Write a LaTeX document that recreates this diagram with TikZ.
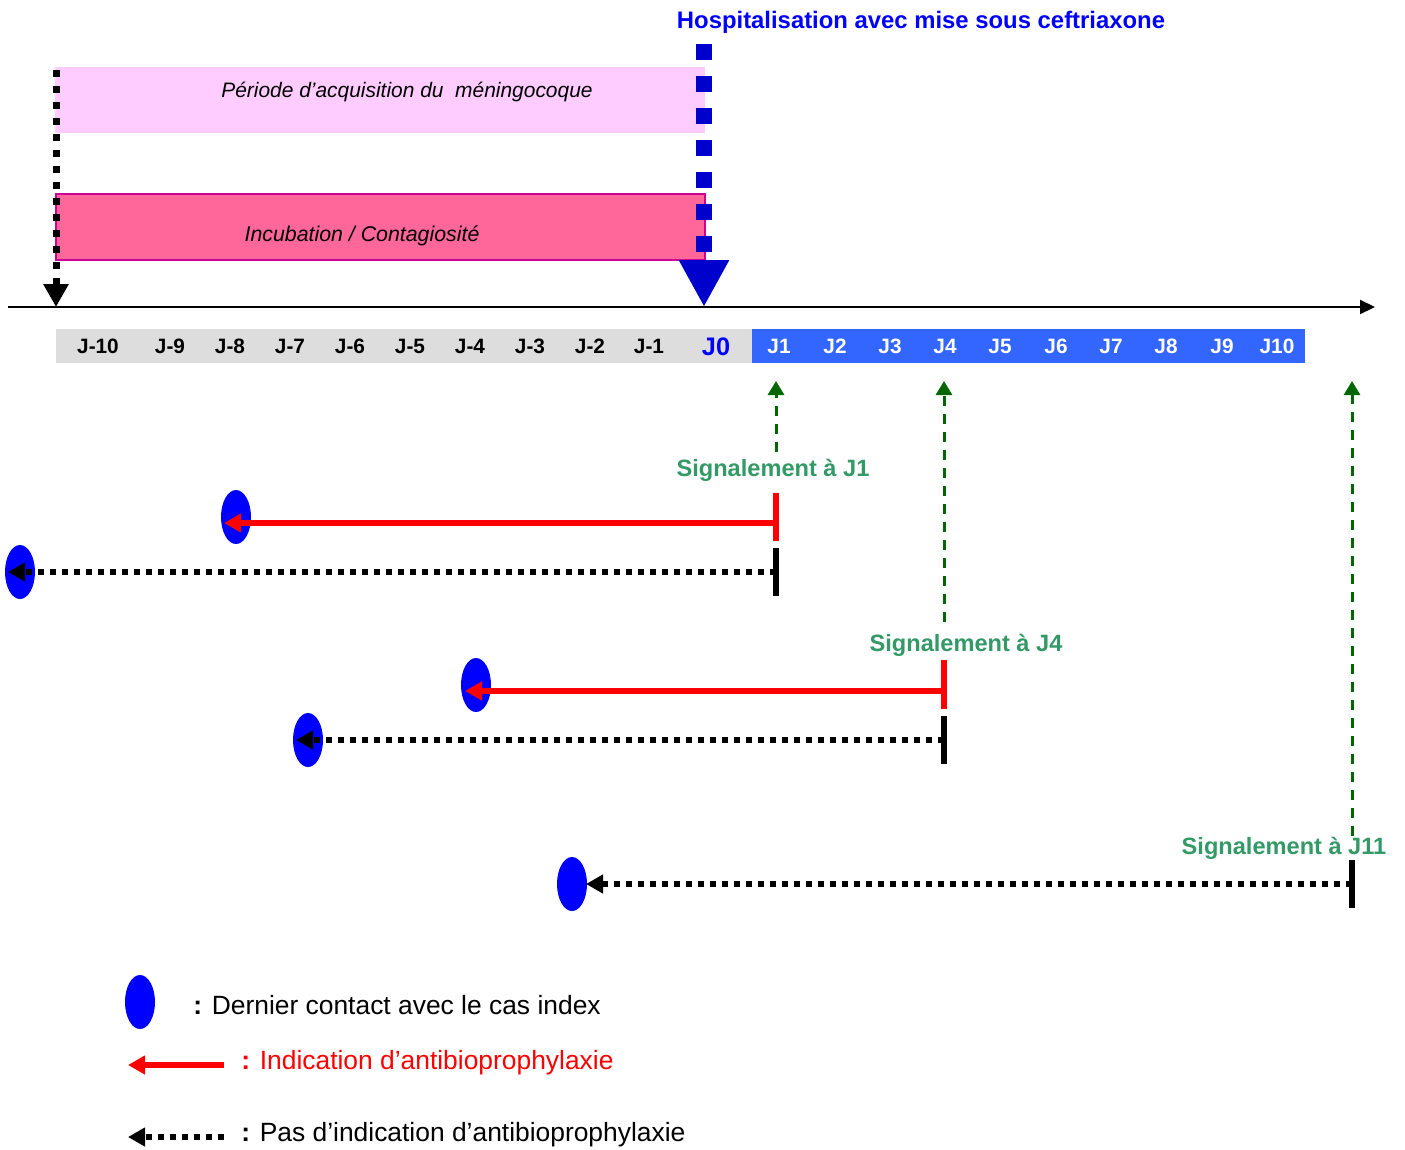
\documentclass[tikz,border=0pt]{standalone}
\usepackage{fontspec}
\setmainfont{Liberation Sans}
\usetikzlibrary{arrows.meta,shapes.geometric}
\definecolor{pinkA}{HTML}{FFCCFF}
\definecolor{pinkB}{HTML}{FF6699}
\definecolor{pinkBorder}{HTML}{CC0099}
\definecolor{greyBar}{HTML}{DDDDDD}
\definecolor{blueBar}{HTML}{3366FF}
\definecolor{darkBlue}{HTML}{0000CC}
\definecolor{textBlue}{HTML}{0000FF}
\definecolor{dashGreen}{HTML}{006600}
\definecolor{textGreen}{HTML}{339966}
\begin{document}
\begin{tikzpicture}[x=0.75pt,y=-0.75pt,
  contact/.style={ellipse,fill=textBlue,draw=none,minimum width=22.5pt,minimum height=40.5pt,inner sep=0pt},
  daylbl/.style={font=\fontsize{15.6}{18}\selectfont\bfseries,inner sep=0pt},
  sigtxt/.style={font=\fontsize{17.7}{20}\selectfont\bfseries,text=textGreen,inner sep=0pt},
  legtxt/.style={font=\fontsize{19.8}{24}\selectfont,inner sep=0pt,anchor=west},
  boxtxt/.style={font=\fontsize{15.7}{18}\selectfont\itshape,inner sep=0pt},
  redarrow/.style={draw=red,line width=4.5pt,-{Triangle[length=12.75pt,width=13.5pt]}},
  blackdots/.style={draw=black,line width=4.5pt,dash pattern=on 4.5pt off 4.5pt,-{Triangle[length=12.75pt,width=13.5pt]}},
  redbar/.style={draw=red,line width=4.5pt},
  blackbar/.style={draw=black,line width=4.5pt},
  gdash/.style={draw=dashGreen,line width=2.25pt,dash pattern=on 7.5pt off 6pt,-{Triangle[length=10.5pt,width=12pt]}},
]
\useasboundingbox (0,0) rectangle (1405,1149);

% period boxes
\fill[pinkA] (55,67) rectangle (705,133);
\node[boxtxt] (acq) at (407,92) {Période d’acquisition du\ \ méningocoque};
\filldraw[fill=pinkB,draw=pinkBorder,line width=1pt] (56,194) rectangle (705,260);
\node[boxtxt,font=\fontsize{16}{18}\selectfont\itshape] (incub) at (362,236) {Incubation / Contagiosité};

% day bar
\fill[greyBar] (56,329) rectangle (752,363);
\fill[blueBar] (752,329) rectangle (1305,363);
\foreach \t/\x/\n in {J-10/98/m10,J-9/170/m9,J-8/230/m8,J-7/290/m7,J-6/350/m6,J-5/410/m5,J-4/470/m4,J-3/530/m3,J-2/590/m2,J-1/649/m1}
  \node[daylbl] (d\n) at (\x,346) {\t};
\node[daylbl,font=\fontsize{19}{22}\selectfont\bfseries,text=textBlue] (d0) at (716,347) {J0};
\foreach \t/\x/\n in {J1/779/1,J2/835/2,J3/890/3,J4/945/4,J5/1000/5,J6/1056/6,J7/1111/7,J8/1166/8,J9/1222/9,J10/1277/10}
  \node[daylbl,text=white] (d\n) at (\x,346) {\t};

% axis
\coordinate (axL) at (8,307);
\coordinate (axR) at (1375,307);
\draw[line width=1.5pt,-{Triangle[length=11.25pt,width=10.5pt]}] (axL) -- (axR);

% start of period arrow
\coordinate (sTop) at (56,70);
\coordinate (sBot) at (56,307);
\draw[line width=5.25pt,dash pattern=on 5.25pt off 6.75pt,-{Triangle[length=17.25pt,width=18pt]}] (sTop) -- (sBot);

% hospitalisation
\node[font=\fontsize{17.9}{20}\selectfont\bfseries,text=textBlue,inner sep=0pt] (hosp) at (921,22) {Hospitalisation avec mise sous ceftriaxone};
\coordinate (hTop) at (704,44);
\coordinate (hBot) at (704,307);
\draw[darkBlue,line width=12pt,dash pattern=on 12pt off 12pt,-{Triangle[length=35.25pt,width=35.25pt]}] (hTop) -- (hBot);

% signalement J1
\coordinate (g1s) at (776,452);
\coordinate (g1e) at (776,381);
\draw[gdash] (g1s) -- (g1e);
\node[sigtxt] (s1) at (773,470) {Signalement à J1};
\node[contact] (e1r) at (236,517) {};
\node[contact] (e1b) at (20,572) {};
\coordinate (r1) at (776,523);
\coordinate (r1t) at (224,523);
\draw[redbar] (776,493) -- (776,541);
\draw[redarrow] (r1) -- (r1t);
\coordinate (k1) at (776,572);
\coordinate (k1t) at (8,572);
\draw[blackbar] (776,548) -- (776,596);
\draw[blackdots] (k1) -- (k1t);

% signalement J4
\coordinate (g4s) at (944,622);
\coordinate (g4e) at (944,381);
\draw[gdash] (g4s) -- (g4e);
\node[sigtxt] (s4) at (966,645) {Signalement à J4};
\node[contact] (e4r) at (476,685) {};
\node[contact] (e4b) at (308,740) {};
\coordinate (r4) at (944,691);
\coordinate (r4t) at (465,691);
\draw[redbar] (944,660) -- (944,709);
\draw[redarrow] (r4) -- (r4t);
\coordinate (k4) at (944,740);
\coordinate (k4t) at (296,740);
\draw[blackbar] (944,716) -- (944,764);
\draw[blackdots] (k4) -- (k4t);

% signalement J11
\coordinate (g11s) at (1352,836);
\coordinate (g11e) at (1352,381);
\draw[gdash] (g11s) -- (g11e);
\node[sigtxt] (s11) at (1284,848) {Signalement à J11};
\node[contact] (e11b) at (572,884) {};
\coordinate (k11) at (1352,884);
\coordinate (k11t) at (586,884);
\draw[blackbar] (1352,860) -- (1352,908);
\draw[blackdots] (k11) -- (k11t);

% legend
\node[contact] (le) at (140,1002) {};
\node[legtxt] (lt1) at (193,1005) {\textbf{:} Dernier contact avec le cas index};
\coordinate (lr) at (224,1065);
\coordinate (lrt) at (128,1065);
\draw[redarrow] (lr) -- (lrt);
\node[legtxt,text=red] (lt2) at (241,1063) {\textbf{:} Indication d’antibioprophylaxie};
\coordinate (lk) at (224,1137);
\coordinate (lkt) at (128,1137);
\draw[blackdots] (lk) -- (lkt);
\node[legtxt] (lt3) at (241,1135) {\textbf{:} Pas d’indication d’antibioprophylaxie};
\end{tikzpicture}
\end{document}
